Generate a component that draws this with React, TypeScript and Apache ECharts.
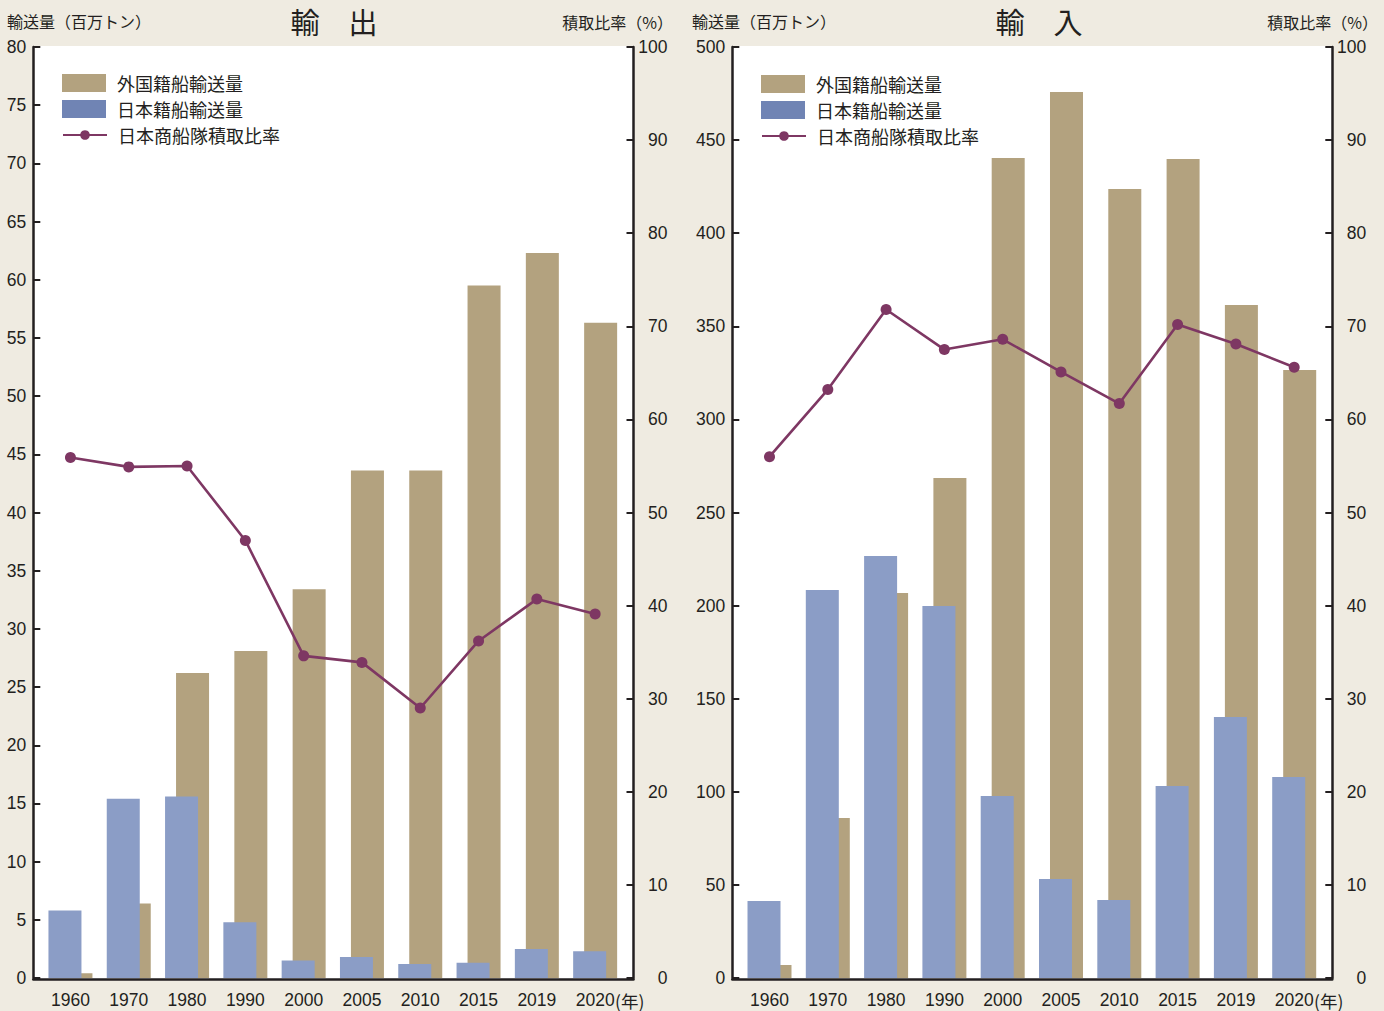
import React, { useEffect, useRef } from 'react';
import * as echarts from 'echarts';

const years = ['1960', '1970', '1980', '1990', '2000', '2005', '2010', '2015', '2019', '2020'];
const exportForeign = [0.4, 6.4, 26.2, 28.1, 33.4, 43.6, 43.6, 59.5, 62.3, 56.3];
const exportJapan = [5.8, 15.4, 15.6, 4.8, 1.5, 1.8, 1.2, 1.3, 2.5, 2.3];
const exportRatio = [55.9, 54.9, 55.0, 47.0, 34.6, 33.9, 29.0, 36.2, 40.7, 39.1];
const importForeign = [7.0, 85.9, 206.8, 268.5, 440.4, 475.8, 423.7, 439.8, 361.4, 326.5];
const importJapan = [41.4, 208.4, 226.6, 199.8, 97.7, 53.2, 41.9, 103.1, 140.2, 108.0];
const importRatio = [56.0, 63.2, 71.8, 67.5, 68.6, 65.1, 61.7, 70.2, 68.1, 65.6];

const NAME_FOREIGN = '外国籍船輸送量';
const NAME_JAPAN = '日本籍船輸送量';
const NAME_RATIO = '日本商船隊積取比率';

const BG = '#efebe1';
const TEXT = '#231f20';
const TAN = '#b3a27f';
const BLUE = '#8b9dc6';
const BLUE_LEGEND = '#7084b4';
const LINE = '#7e3763';
const NUM_FONT = '"Liberation Sans", "Noto Sans CJK JP", sans-serif';
const CJK_FONT = '"Noto Sans CJK JP", sans-serif';

const panels = [
  {
    title: '輸　出', foreign: exportForeign, japan: exportJapan, ratio: exportRatio,
    volMax: 80, volInterval: 5,
    axisL: 33.3, axisR: 633.5, bandStart: 41.3, bandWidth: 583,
    titleX: 334, nameLX: 7, nameRX: 673, legendLeft: 62, legendTop: 74, nenX: 615,
  },
  {
    title: '輸　入', foreign: importForeign, japan: importJapan, ratio: importRatio,
    volMax: 500, volInterval: 50,
    axisL: 732.3, axisR: 1332.3, bandStart: 740.35, bandWidth: 583,
    titleX: 1039, nameLX: 692, nameRX: 1378, legendLeft: 761, legendTop: 75, nenX: 1314,
  },
];

function buildOption() {
  const grid: any[] = [];
  const xAxis: any[] = [];
  const yAxis: any[] = [];
  const series: any[] = [];
  const legend: any[] = [];
  const graphic: any[] = [];
  const TOP = 47;
  const H = 931;

  panels.forEach((p) => {
    const gDecor = grid.length;
    grid.push({
      left: p.axisL, top: 46, width: p.axisR - p.axisL, height: 933,
      show: true, backgroundColor: '#ffffff', borderWidth: 0,
    });
    const gData = grid.length;
    grid.push({ left: p.bandStart, top: TOP, width: p.bandWidth, height: H, show: false });

    xAxis.push({
      type: 'value', gridIndex: gDecor, min: 0, max: 1,
      axisLine: { show: true, onZero: false, lineStyle: { color: TEXT, width: 2.5 } },
      axisTick: { show: false }, axisLabel: { show: false }, splitLine: { show: false },
    });
    yAxis.push({ type: 'value', gridIndex: gDecor, min: 0, max: 1, show: false });

    const xCat = xAxis.length;
    xAxis.push({
      type: 'category', gridIndex: gData, data: years, boundaryGap: true,
      axisLine: { show: false }, axisTick: { show: false },
      axisLabel: {
        interval: 0, hideOverlap: false,
        color: TEXT, fontSize: 17.5, fontFamily: NUM_FONT, margin: 13,
      },
    });

    const yVol = yAxis.length;
    yAxis.push({
      type: 'value', gridIndex: gData, position: 'left', offset: p.bandStart - p.axisL,
      min: 0, max: p.volMax, interval: p.volInterval,
      axisLine: { show: true, lineStyle: { color: TEXT, width: 2.5 } },
      axisTick: { show: true, inside: true, length: 7, lineStyle: { color: TEXT, width: 2 } },
      axisLabel: { color: TEXT, fontSize: 17.5, fontFamily: NUM_FONT, margin: 7 },
      splitLine: { show: false },
    });
    const yRatio = yAxis.length;
    yAxis.push({
      type: 'value', gridIndex: gData, position: 'right',
      offset: p.axisR - (p.bandStart + p.bandWidth),
      min: 0, max: 100, interval: 10,
      axisLine: { show: true, lineStyle: { color: TEXT, width: 2.5 } },
      axisTick: { show: true, inside: true, length: 7, lineStyle: { color: TEXT, width: 2 } },
      axisLabel: { color: TEXT, fontSize: 17.5, fontFamily: NUM_FONT, margin: 34, align: 'right' },
      splitLine: { show: false },
    });

    series.push({
      name: NAME_JAPAN, type: 'bar', xAxisIndex: xCat, yAxisIndex: yVol,
      data: p.japan, barWidth: 33, barGap: '-66.7%', z: 4,
      itemStyle: { color: BLUE },
    });
    series.push({
      name: NAME_FOREIGN, type: 'bar', xAxisIndex: xCat, yAxisIndex: yVol,
      data: p.foreign, barWidth: 33, barGap: '-66.7%', z: 3,
      itemStyle: { color: TAN },
    });
    series.push({
      name: NAME_RATIO, type: 'line', xAxisIndex: xCat, yAxisIndex: yRatio,
      data: p.ratio, symbol: 'circle', symbolSize: 11, z: 6,
      lineStyle: { color: LINE, width: 2.6 }, itemStyle: { color: LINE },
    });

    legend.push({
      left: p.legendLeft, top: p.legendTop, orient: 'vertical', padding: 0,
      itemWidth: 44, itemHeight: 18, itemGap: 8, icon: 'rect',
      selectedMode: false,
      textStyle: { fontSize: 18, fontFamily: CJK_FONT, color: TEXT, padding: [0, 0, 0, 6] },
      data: [
        { name: NAME_FOREIGN, itemStyle: { color: TAN } },
        { name: NAME_JAPAN, itemStyle: { color: BLUE_LEGEND } },
      ],
    });
    legend.push({
      left: p.legendLeft, top: p.legendTop + 52, orient: 'vertical', padding: 0,
      itemWidth: 44, itemHeight: 12, selectedMode: false,
      textStyle: { fontSize: 18, fontFamily: CJK_FONT, color: TEXT, padding: [0, 0, 0, 6] },
      data: [{ name: NAME_RATIO }],
    });

    graphic.push({
      type: 'text', x: p.titleX, y: 21, z: 10,
      style: { text: p.title, fontSize: 29, fontFamily: CJK_FONT, fill: TEXT, align: 'center', verticalAlign: 'middle' },
    });
    graphic.push({
      type: 'text', x: p.nameLX, y: 21, z: 10,
      style: { text: '輸送量（百万トン）', fontSize: 16, fontFamily: CJK_FONT, fill: TEXT, align: 'left', verticalAlign: 'middle' },
    });
    graphic.push({
      type: 'text', x: p.nameRX, y: 22, z: 10,
      style: { text: '積取比率（%）', fontSize: 16, fontFamily: CJK_FONT, fill: TEXT, align: 'right', verticalAlign: 'middle' },
    });
    graphic.push({
      type: 'text', x: p.nenX, y: 1000, z: 10,
      style: { text: '(年)', fontSize: 17.5, fontFamily: CJK_FONT, fill: TEXT, align: 'left', verticalAlign: 'middle' },
    });
  });

  return {
    animation: false,
    backgroundColor: BG,
    grid, xAxis, yAxis, series, legend, graphic,
  };
}

export default function App() {
  const ref = useRef<HTMLDivElement>(null);
  useEffect(() => {
    if (!ref.current) return;
    const chart = echarts.init(ref.current, null, { renderer: 'svg' });
    chart.setOption(buildOption() as any);
    return () => chart.dispose();
  }, []);
  return (
    <div
      ref={ref}
      style={{ position: 'fixed', left: 0, top: 0, width: 1384, height: 1011 }}
    />
  );
}
